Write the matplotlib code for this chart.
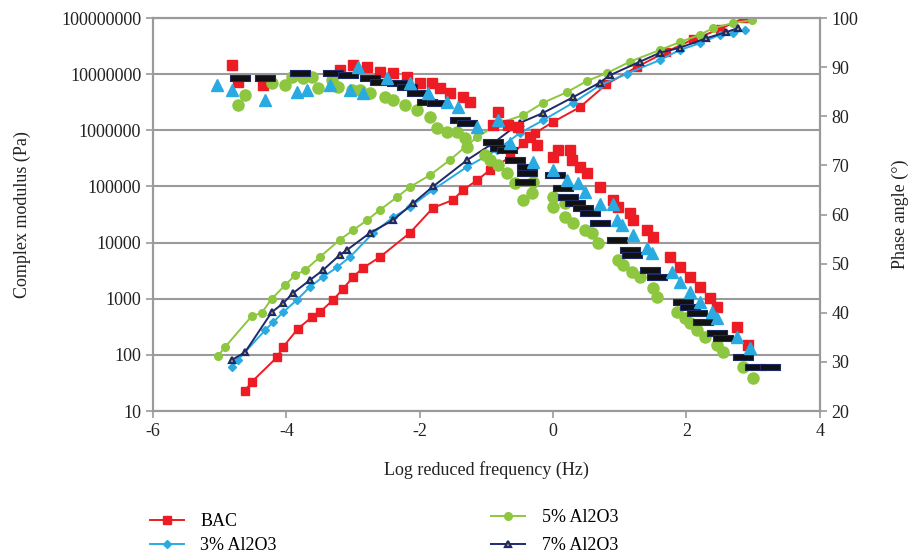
import numpy as np
import matplotlib
matplotlib.use('Agg')
import matplotlib.pyplot as plt
from matplotlib.ticker import FixedLocator, FuncFormatter
from matplotlib.path import Path

plt.rcParams['font.family'] = ['Liberation Serif', 'DejaVu Serif']
plt.rcParams['axes.unicode_minus'] = False

# complex modulus (Pa) vs log reduced frequency
bac_x = [-4.62, -4.52, -4.14, -4.05, -3.83, -3.62, -3.50, -3.30, -3.15, -3.00, -2.85, -2.60, -2.15,
         -1.80, -1.50, -1.35, -1.14, -0.95, -0.65, -0.45, -0.27, 0.00, 0.40, 0.80, 1.26, 1.70, 2.10,
         2.50, 2.86]
bac_g = [23, 33, 91, 138, 290, 470, 575, 950, 1500, 2450, 3550, 5500, 14800,
         41700, 57500, 87000, 129000, 195000, 331000, 589000, 891000, 1410000, 2570000, 6600000,
         13500000, 25100000, 41700000, 63100000, 100000000]

al3_x = [-4.82, -4.73, -4.32, -4.20, -4.05, -3.84, -3.65, -3.45, -3.24, -3.05, -2.70, -2.40, -2.15,
         -1.80, -1.29, -0.84, -0.50, -0.15, 0.30, 0.70, 1.11, 1.60, 1.90, 2.20, 2.50, 2.70, 2.88]
al3_g = [60, 81, 275, 380, 575, 955, 1620, 2450, 3630, 5500, 14800, 28200, 42700,
         87100, 224000, 447000, 891000, 1510000, 3090000, 6310000, 10200000, 17800000, 26900000,
         35500000, 50100000, 53700000, 61700000]

al5_x = [-5.03, -4.92, -4.52, -4.37, -4.22, -4.02, -3.87, -3.72, -3.50, -3.20, -3.00, -2.79, -2.60,
         -2.34, -2.15, -1.85, -1.55, -1.14, -0.80, -0.45, -0.15, 0.21, 0.51, 0.81, 1.15, 1.60, 1.90,
         2.20, 2.40, 2.70, 2.98]
al5_g = [95, 138, 490, 560, 1000, 1740, 2630, 3240, 5500, 11200, 16600, 25100, 38000,
         64600, 97700, 158000, 295000, 759000, 1350000, 1860000, 3090000, 4790000, 7590000,
         10500000, 16600000, 26900000, 37200000, 50100000, 66100000, 81300000, 91200000]

al7_x = [-4.82, -4.62, -4.22, -4.05, -3.90, -3.65, -3.45, -3.20, -3.09, -2.75, -2.40, -2.10, -1.80,
         -1.29, -0.90, -0.50, -0.15, 0.30, 0.70, 0.85, 1.30, 1.60, 1.90, 2.30, 2.60, 2.77]
al7_g = [81, 112, 575, 830, 1260, 2140, 3240, 6030, 7410, 14800, 25100, 50100, 100000,
         295000, 589000, 1350000, 2040000, 3890000, 7080000, 9550000, 16600000, 24000000,
         29500000, 43700000, 56200000, 66100000]

# phase angle (deg)
bac_px = [-4.82, -4.73, -4.35, -3.20, -3.00, -2.79, -2.60, -2.40, -2.19, -2.00, -1.82, -1.70, -1.55,
          -1.35, -1.25, -0.90, -0.83, -0.68, -0.53, -0.35, -0.24, 0.00, 0.07, 0.25, 0.28, 0.40, 0.51,
          0.70, 0.90, 0.97, 1.15, 1.20, 1.41, 1.50, 1.75, 1.90, 2.05, 2.20, 2.35, 2.46, 2.76, 2.92]
bac_ph = [90.4, 87.0, 86.4, 89.4, 90.4, 90.0, 89.0, 88.8, 88.0, 86.8, 86.8, 85.8, 84.7,
          83.9, 82.9, 78.2, 80.9, 78.2, 77.8, 75.8, 74.1, 71.7, 73.1, 73.1, 71.1, 69.7, 68.4,
          65.6, 63.0, 61.5, 60.3, 58.9, 56.8, 55.4, 51.3, 49.3, 47.3, 45.2, 43.0, 41.2, 37.1, 33.4]

al3_px = [-5.04, -4.82, -4.32, -3.84, -3.69, -3.35, -3.05, -2.93, -2.85, -2.49, -2.15, -1.88, -1.59,
          -1.43, -1.14, -0.83, -0.65, -0.30, 0.00, 0.21, 0.37, 0.48, 0.70, 0.90, 0.96, 1.03, 1.20,
          1.41, 1.48, 1.78, 1.90, 2.05, 2.20, 2.38, 2.46, 2.76, 2.95]
al3_ph = [86.4, 85.3, 83.3, 84.9, 85.3, 86.4, 85.3, 90.0, 84.7, 87.8, 86.8, 84.7, 82.9,
          81.9, 77.8, 79.2, 74.6, 70.7, 69.1, 67.0, 66.4, 64.6, 62.1, 62.1, 58.9, 57.9, 55.8,
          53.2, 52.2, 48.3, 46.3, 44.2, 42.2, 40.2, 38.9, 35.1, 32.8]

al5_px = [-4.73, -4.62, -4.22, -4.02, -3.92, -3.75, -3.62, -3.53, -3.32, -3.23, -3.02, -2.90, -2.75,
          -2.52, -2.40, -2.22, -2.04, -1.85, -1.74, -1.59, -1.44, -1.32, -1.29, -1.02, -0.95, -0.83,
          -0.69, -0.57, -0.45, -0.32, -0.30, 0.00, 0.00, 0.18, 0.18, 0.30, 0.48, 0.58, 0.67, 0.97,
          1.05, 1.18, 1.30, 1.50, 1.56, 1.86, 1.98, 2.05, 2.16, 2.28, 2.46, 2.55, 2.85, 3.00]
al5_ph = [82.3, 84.3, 86.8, 86.4, 88.0, 87.8, 88.0, 85.8, 87.4, 86.0, 85.3, 85.3, 84.7,
          83.9, 83.3, 82.3, 81.3, 79.8, 77.6, 76.8, 76.8, 75.6, 73.7, 72.1, 71.1, 70.1,
          68.4, 66.4, 63.0, 64.4, 66.6, 63.6, 61.5, 62.3, 59.5, 58.3, 56.8, 56.2, 54.2, 50.7,
          49.7, 48.3, 47.3, 45.0, 43.2, 40.2, 38.9, 37.9, 36.5, 35.1, 33.4, 32.0, 29.0, 26.7]

al7_px = [-4.70, -4.32, -3.80, -3.30, -3.08, -2.75, -2.60, -2.34, -2.19, -2.04, -1.89, -1.74, -1.40,
          -1.29, -0.90, -0.80, -0.69, -0.57, -0.39, -0.39, -0.42, 0.03, 0.15, 0.22, 0.33, 0.45, 0.55,
          0.70, 0.96, 1.15, 1.18, 1.45, 1.56, 1.95, 2.05, 2.16, 2.25, 2.46, 2.55, 2.85, 3.03, 3.25]
al7_ph = [87.8, 87.8, 88.8, 88.8, 88.4, 87.8, 87.0, 86.8, 86.0, 84.7, 82.9, 82.7, 79.2,
          78.6, 74.8, 73.5, 73.1, 71.1, 69.7, 68.4, 66.6, 68.0, 65.4, 63.6, 62.3, 61.3, 60.3,
          58.3, 54.8, 52.8, 51.8, 48.7, 47.3, 42.2, 41.2, 40.0, 38.1, 35.9, 34.9, 31.0, 29.0, 29.0]

red = '#ED1C24'
blue = '#29ABE2'
green = '#8DC63F'
navy = '#1F2A68'
grey = '#9A9A9A'

fig, ax = plt.subplots(figsize=(9.18, 5.54), dpi=100)
fig.subplots_adjust(left=0.1667, right=0.893, top=0.9675, bottom=0.258)
ax2 = ax.twinx()

ax.plot(bac_x, bac_g, color=red, lw=1.4, marker='s', ms=5.5, label='BAC', zorder=3)
ax.plot(al3_x, al3_g, color=blue, lw=1.4, marker='D', ms=4.5, label='3% Al2O3', zorder=3)
ax.plot(al5_x, al5_g, color=green, lw=1.4, marker='o', ms=5.5, label='5% Al2O3', zorder=3)
ax.plot(al7_x, al7_g, color=navy, lw=1.4, marker='^', ms=5, mfc='#C8C020', mec=navy, mew=1.6,
        label='7% Al2O3', zorder=4)

dash = Path([(-1, -0.3), (1, -0.3), (1, 0.3), (-1, 0.3), (-1, -0.3)])
ax2.plot(bac_px, bac_ph, ls='none', marker='s', ms=7.5, color=red)
ax2.plot(al5_px, al5_ph, ls='none', marker='o', ms=8, color=green)
ax2.plot(al7_px, al7_ph, ls='none', marker=dash, ms=14, mfc='#111111', mec=navy, mew=0.8)
ax2.plot(al3_px, al3_ph, ls='none', marker='^', ms=9, color=blue)

ax.set_yscale('log')
ax.set_xlim(-6, 4)
ax.set_ylim(10, 1e8)
ax2.set_ylim(20, 100)
ax.set_xticks([-6, -4, -2, 0, 2, 4])
ax.yaxis.set_major_locator(FixedLocator([10 ** k for k in range(1, 9)]))
ax.yaxis.set_minor_locator(FixedLocator([]))
ax.yaxis.set_major_formatter(FuncFormatter(lambda v, p: '%d' % round(v)))
ax2.set_yticks(range(20, 101, 10))

ax.grid(axis='y', color=grey, lw=1.5)
ax.set_axisbelow(True)
for a in (ax, ax2):
    for s in a.spines.values():
        s.set_color(grey)
        s.set_linewidth(1.5)
    a.tick_params(colors=grey, labelcolor='#222222', labelsize=13, length=5, width=1.2)

ax.set_xlabel('Log reduced frequency (Hz)', fontsize=13, labelpad=15, color='#222222')
ax.set_ylabel('Complex modulus (Pa)', fontsize=13, labelpad=22, color='#222222')
ax2.set_ylabel('Phase angle (°)', fontsize=13, labelpad=24, color='#222222')

h, l = ax.get_legend_handles_labels()
fig.legend(h[:2], l[:2], loc='center left', bbox_to_anchor=(0.163, 0.037), frameon=False,
           fontsize=13, borderpad=0, borderaxespad=0, handlelength=1.9, handletextpad=0.9,
           labelspacing=0.4)
fig.legend(h[2:], l[2:], loc='center left', bbox_to_anchor=(0.535, 0.04), frameon=False,
           fontsize=13, borderpad=0, borderaxespad=0, handlelength=1.9, handletextpad=0.9,
           labelspacing=0.6)

plt.savefig('out.png', dpi=100)
plt.close()
